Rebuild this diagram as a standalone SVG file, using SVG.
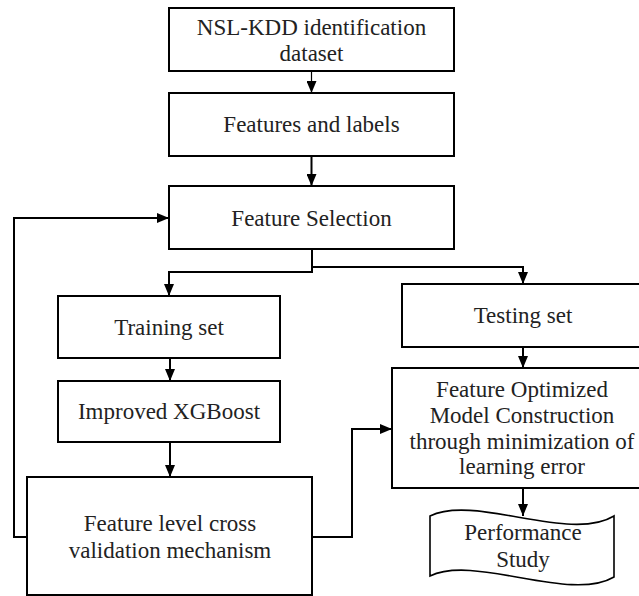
<svg xmlns="http://www.w3.org/2000/svg" width="639" height="596" viewBox="0 0 639 596">
  <defs>
    <marker id="arrow" markerUnits="userSpaceOnUse" markerWidth="12" markerHeight="10" viewBox="0 0 12 10" refX="12" refY="5" orient="auto">
      <path d="M0,0 L12,5 L0,10 Z" fill="#000"/>
    </marker>
  </defs>
  <style>
    .box{fill:#fff;stroke:#000;stroke-width:2}
    .doc{fill:#fff;stroke:#000;stroke-width:1.6}
    .lbl{font-family:"Liberation Serif","Times New Roman",serif;font-size:23px;fill:#222;text-anchor:middle}
    .wire{fill:none;stroke:#000;stroke-width:2}
    .thin{stroke-width:1.2}
  </style>
  <rect width="639" height="596" fill="#fff"/>

  <g id="connectors">
    <path class="wire thin" d="M311.5,71 V93" marker-end="url(#arrow)"/>
    <path class="wire" d="M311.5,156 V186" marker-end="url(#arrow)"/>
    <path class="wire" d="M312,249 V272 H169 V296" marker-end="url(#arrow)"/>
    <path class="wire" d="M312,267 H523 V284" marker-end="url(#arrow)"/>
    <path class="wire" d="M170,358 V381" marker-end="url(#arrow)"/>
    <path class="wire" d="M170,442 V477" marker-end="url(#arrow)"/>
    <path class="wire" d="M27,537 H14 V218 H169" marker-end="url(#arrow)"/>
    <path class="wire" d="M312,537 H352 V429 H392" marker-end="url(#arrow)"/>
    <path class="wire" d="M523,347 V368" marker-end="url(#arrow)"/>
    <path class="wire" d="M523,488 V516" marker-end="url(#arrow)"/>
  </g>

  <g id="dataset">
    <rect class="box" x="169" y="8" width="285" height="63"/>
    <text class="lbl" x="311.5" y="35">NSL-KDD identification</text>
    <text class="lbl" x="311.5" y="61">dataset</text>
  </g>

  <g id="features-labels">
    <rect class="box" x="169" y="93" width="285" height="63"/>
    <text class="lbl" x="311.5" y="132">Features and labels</text>
  </g>

  <g id="feature-selection">
    <rect class="box" x="169" y="186" width="285" height="63"/>
    <text class="lbl" x="311.5" y="226">Feature Selection</text>
  </g>

  <g id="training-set">
    <rect class="box" x="58" y="296" width="222" height="62"/>
    <text class="lbl" x="169" y="335">Training  set</text>
  </g>

  <g id="improved-xgboost">
    <rect class="box" x="58" y="381" width="222" height="61"/>
    <text class="lbl" x="169" y="419">Improved XGBoost</text>
  </g>

  <g id="cross-validation">
    <rect class="box" x="27" y="477" width="285" height="118"/>
    <text class="lbl" x="170" y="531">Feature level  cross</text>
    <text class="lbl" x="170" y="558">validation  mechanism</text>
  </g>

  <g id="testing-set">
    <rect class="box" x="402" y="284" width="245" height="63"/>
    <text class="lbl" x="523" y="323">Testing  set</text>
  </g>

  <g id="model-construction">
    <rect class="box" x="392" y="368" width="255" height="120"/>
    <text class="lbl" x="522" y="397">Feature Optimized</text>
    <text class="lbl" x="522" y="423">Model Construction</text>
    <text class="lbl" x="522" y="449">through minimization of</text>
    <text class="lbl" x="522" y="474">learning  error</text>
  </g>

  <g id="performance-study">
    <path class="doc" d="M430,516 C475,494 570,543 614,516 V577 C570,603 475,554 430,576 Z"/>
    <text class="lbl" x="523" y="540">Performance</text>
    <text class="lbl" x="523" y="567">Study</text>
  </g>
</svg>
